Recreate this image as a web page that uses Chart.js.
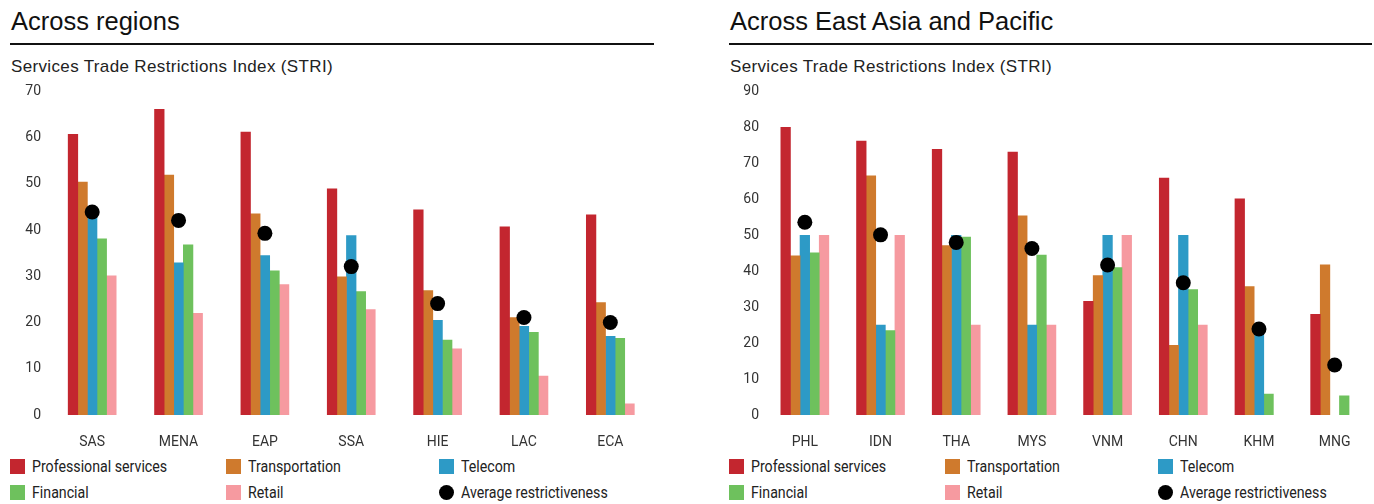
<!DOCTYPE html>
<html>
<head>
<meta charset="utf-8">
<title>Services Trade Restrictions Index</title>
<script src="https://cdn.jsdelivr.net/npm/chart.js@4.4.1/dist/chart.umd.min.js"></script>
<style>
  html, body { margin: 0; padding: 0; background: #fff; }
  body { width: 1374px; height: 504px; overflow: hidden; position: relative;
         font-family: "Liberation Sans", Arial, sans-serif; }
  .panel { position: absolute; top: 0; width: 645px; height: 504px; }
  .title { position: absolute; left: 1px; top: 9px; font-size: 25.5px; line-height: 25px;
           color: #111; white-space: nowrap; }
  .rule { position: absolute; left: 0; top: 43px; width: 644px; height: 2px; background: #111; }
  .sub { position: absolute; left: 1px; top: 58px; font-size: 17px; line-height: 17px; letter-spacing: 0.35px;
         color: #222; white-space: nowrap; }
  canvas { position: absolute; left: 0; top: 75px; }
  .key { position: absolute; height: 16px; }
  .swatch { position: absolute; left: 0; top: 0; width: 15px; height: 15px; }
  .dot { border-radius: 50%; }
  .label { position: absolute; left: 22px; top: 0; font-family: "Roboto", sans-serif;
           font-size: 16.5px; line-height: 16px; color: #222; white-space: nowrap;
           transform: scaleX(0.86); transform-origin: 0 50%; }
</style>
</head>
<body>

<div class="panel" id="left" style="left:10px">
  <div class="title">Across regions</div>
  <div class="rule"></div>
  <div class="sub">Services Trade Restrictions Index (STRI)</div>
  <canvas id="regions" width="651" height="375"></canvas>
</div>

<div class="panel" id="right" style="left:729px">
  <div class="title">Across East Asia and Pacific</div>
  <div class="rule" style="width:643px"></div>
  <div class="sub">Services Trade Restrictions Index (STRI)</div>
  <canvas id="eap" width="651" height="375"></canvas>
</div>

<script>
// Sector colours
const colorProfessional = '#C3262F';
const colorTransportation = '#CF7A2D';
const colorTelecom = '#2D9AC6';
const colorFinancial = '#6EC15D';
const colorRetail = '#F69AA0';
const colorAverage = '#000000';

// Across regions
const regionLabels = ['SAS', 'MENA', 'EAP', 'SSA', 'HIE', 'LAC', 'ECA'];
const regionProfessional = [60.7, 66.1, 61.2, 48.9, 44.4, 40.7, 43.3];
const regionTransportation = [50.4, 51.9, 43.5, 29.9, 26.9, 21.1, 24.3];
const regionTelecom = [43.0, 32.9, 34.5, 38.8, 20.5, 19.2, 17.0];
const regionFinancial = [38.1, 36.8, 31.2, 26.7, 16.2, 17.9, 16.6];
const regionRetail = [30.1, 22.0, 28.2, 22.8, 14.3, 8.4, 2.4];
const regionAverage = [43.9, 42.1, 39.3, 32.1, 24.1, 21.1, 20.0];
const regionTicks = [0, 10, 20, 30, 40, 50, 60, 70];

// Across East Asia and Pacific
const eapLabels = ['PHL', 'IDN', 'THA', 'MYS', 'VNM', 'CHN', 'KHM', 'MNG'];
const eapProfessional = [80.0, 76.2, 73.9, 73.1, 31.6, 65.9, 60.1, 28.0];
const eapTransportation = [44.3, 66.5, 47.1, 55.4, 38.8, 19.4, 35.7, 41.8];
const eapTelecom = [50.0, 25.0, 50.0, 25.0, 50.0, 50.0, 23.5, null];
const eapFinancial = [45.1, 23.5, 49.5, 44.5, 41.0, 34.9, 5.8, 5.3];
const eapRetail = [50.0, 50.0, 25.0, 25.0, 50.0, 25.0, null, null];
const eapAverage = [53.6, 50.1, 48.0, 46.3, 41.7, 36.8, 23.9, 13.9];
const eapTicks = [0, 10, 20, 30, 40, 50, 60, 70, 80, 90];

const seriesNames = ['Professional services', 'Transportation', 'Telecom', 'Financial', 'Retail', 'Average restrictiveness'];
const seriesColors = [colorProfessional, colorTransportation, colorTelecom, colorFinancial, colorRetail, colorAverage];

const tickFont = { family: '"Roboto", sans-serif', size: 14 };

function barSet(label, data, color) {
  return { type: 'bar', label, data, backgroundColor: color, borderWidth: 0,
           barThickness: 9.6, order: 1 };
}

function buildChart(canvasId, labels, sectors, average, ticks, axisWidth, padRight) {
  const datasets = sectors.map((d, i) => barSet(seriesNames[i], d, seriesColors[i]));
  datasets.push({
    type: 'line', label: seriesNames[5], data: average, showLine: false,
    pointRadius: 7.5, pointHoverRadius: 7.5, pointBackgroundColor: colorAverage,
    pointBorderWidth: 0, borderColor: colorAverage, order: 0
  });
  return new Chart(document.getElementById(canvasId), {
    data: { labels, datasets },
    options: {
      responsive: false, animation: false, devicePixelRatio: 1,
      layout: { padding: { top: 10, right: padRight, bottom: 0, left: 0 } },
      plugins: { legend: { display: false }, tooltip: { enabled: false } },
      scales: {
        x: {
          grid: { display: false, drawTicks: false }, border: { display: false },
          ticks: { font: tickFont, color: '#333', padding: 19, maxRotation: 0 },
          afterFit(scale) { scale.height = 35; }
        },
        y: {
          min: ticks[0], max: ticks[ticks.length - 1],
          grid: { display: false, drawTicks: false }, border: { display: false },
          afterBuildTicks(scale) { scale.ticks = ticks.map(v => ({ value: v })); },
          ticks: { font: tickFont, color: '#333', padding: 8 },
          afterFit(scale) { scale.width = axisWidth; }
        }
      }
    }
  });
}

// HTML legend laid out as a three-column grid under each chart
function buildLegend(panelId) {
  const panel = document.getElementById(panelId);
  const cols = [0, 216, 429];
  const rows = [459, 485];
  seriesNames.forEach((name, i) => {
    const key = document.createElement('div');
    key.className = 'key';
    key.style.left = cols[i % 3] + 'px';
    key.style.top = rows[Math.floor(i / 3)] + 'px';
    const sw = document.createElement('div');
    sw.className = 'swatch' + (i === 5 ? ' dot' : '');
    sw.style.background = seriesColors[i];
    const tx = document.createElement('div');
    tx.className = 'label';
    tx.textContent = name;
    key.appendChild(sw);
    key.appendChild(tx);
    panel.appendChild(key);
  });
}

buildChart('regions', regionLabels,
  [regionProfessional, regionTransportation, regionTelecom, regionFinancial, regionRetail],
  regionAverage, regionTicks, 39, 1);
buildChart('eap', eapLabels,
  [eapProfessional, eapTransportation, eapTelecom, eapFinancial, eapRetail],
  eapAverage, eapTicks, 38, 2);
buildLegend('left');
buildLegend('right');
</script>
</body>
</html>
